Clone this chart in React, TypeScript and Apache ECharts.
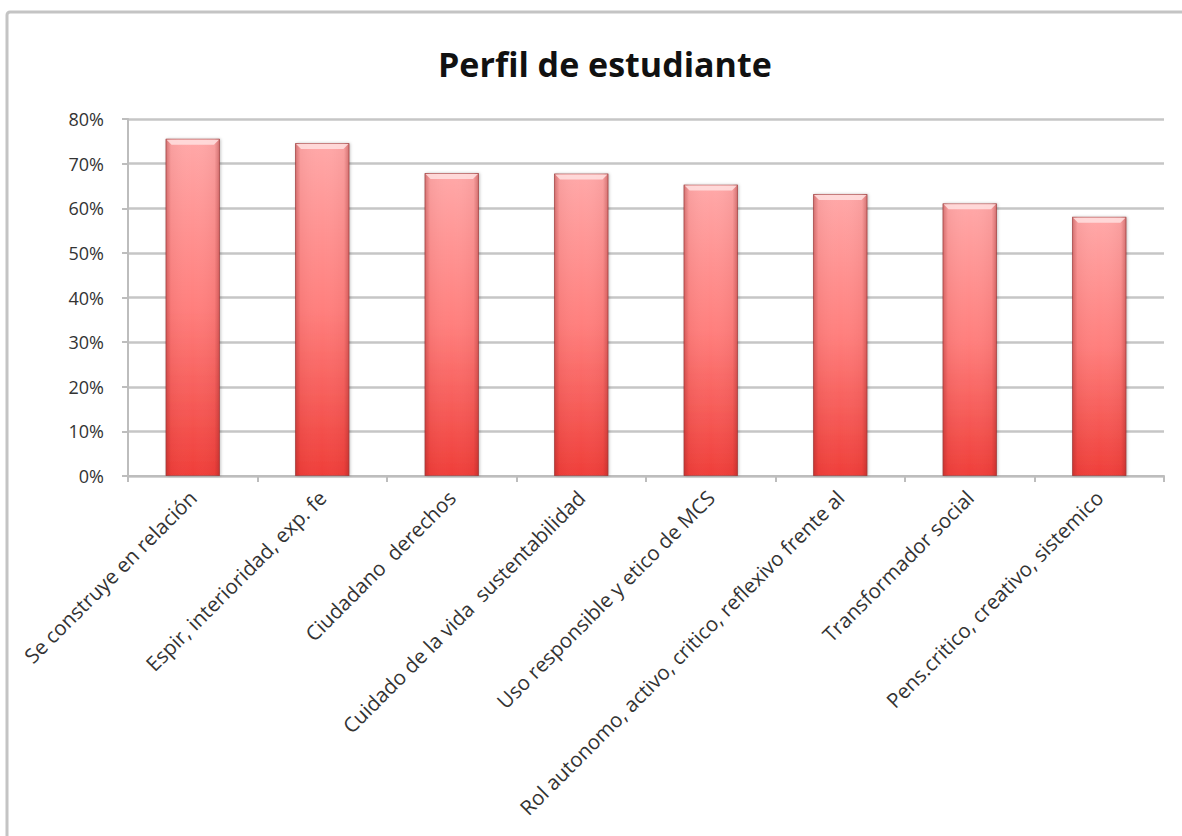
import React, { useEffect, useRef } from "react";
import * as echarts from "echarts";

const TITLE = "Perfil de estudiante";
const categories = [
  "Se construye en relación",
  "Espir, interioridad, exp. fe",
  "Ciudadano  derechos",
  "Cuidado de la vida  sustentabilidad",
  "Uso responsible y etico de MCS",
  "Rol autonomo, activo, critico, reflexivo frente al",
  "Transformador social",
  "Pens.critico, creativo, sistemico",
];
const values = [0.756, 0.746, 0.679, 0.678, 0.653, 0.632, 0.611, 0.581];
const yTicks = { min: 0, max: 0.8, interval: 0.1 };

const BAR_RATIO = 0.42;

export default function App() {
  const ref = useRef<HTMLDivElement>(null);
  useEffect(() => {
    if (!ref.current) return;
    const chart = echarts.init(ref.current, null, { renderer: "svg" });
    const font = "'Open Sans', 'Noto Sans', sans-serif";
    chart.setOption({
      animation: false,
      backgroundColor: "#ffffff",
      title: {
        text: TITLE,
        left: 433,
        top: 42,
        textStyle: { fontFamily: font, fontWeight: "bold", fontSize: 34, color: "#111" },
      },
      graphic: [
        {
          type: "rect",
          shape: { x: 7, y: 12, width: 1300, height: 1000, r: 3 },
          style: { fill: "none", stroke: "#c4c4c4", lineWidth: 3 },
          silent: true,
        },
      ],
      grid: { left: 128, right: 18, top: 119, bottom: 360, containLabel: false },
      xAxis: {
        type: "category",
        data: categories,
        boundaryGap: true,
        axisLine: { show: true, lineStyle: { color: "#bdbdbd", width: 2 } },
        axisTick: { show: true, length: 6, lineStyle: { color: "#bdbdbd", width: 2 } },
        axisLabel: {
          interval: 0,
          rotate: 45,
          margin: 18,
          fontFamily: font,
          fontSize: 20.5,
          color: "#333",
        },
      },
      yAxis: {
        type: "value",
        min: yTicks.min,
        max: yTicks.max,
        interval: yTicks.interval,
        axisLine: { show: true, lineStyle: { color: "#bdbdbd", width: 2 } },
        axisTick: { show: true, length: 6, lineStyle: { color: "#bdbdbd", width: 2 } },
        splitLine: { show: true, lineStyle: { color: "#c6c6c6", width: 2.5 } },
        axisLabel: {
          margin: 24,
          fontFamily: font,
          fontSize: 18,
          color: "#333",
          formatter: (v: number) => Math.round(v * 100) + "%",
        },
      },
      series: [
        {
          type: "bar",
          data: values,
          barWidth: BAR_RATIO * 100 + "%",
          itemStyle: {
            color: new echarts.graphic.LinearGradient(0, 0, 0, 1, [
              { offset: 0, color: "#ffa8a8" },
              { offset: 0.5, color: "#ff7f7d" },
              { offset: 1, color: "#ef3e39" },
            ]),
            borderColor: "rgba(150,50,50,0.5)",
            borderWidth: 1,
            shadowBlur: 3,
            shadowColor: "rgba(0,0,0,0.25)",
            shadowOffsetX: 1,
            shadowOffsetY: 0,
          },
          z: 2,
        },
        {
          type: "custom",
          data: values.map((v, i) => [i, v]),
          encode: { x: 0, y: 1 },
          z: 3,
          silent: true,
          renderItem: (params: any, api: any) => {
            const i = api.value(0);
            const v = api.value(1);
            const top = api.coord([i, v]);
            const base = api.coord([i, 0]);
            const band = api.size([1, 0])[0];
            const w = band * BAR_RATIO;
            const x = top[0] - w / 2;
            const y = top[1];
            const h = base[1] - top[1];
            const b = 6;
            return {
              type: "group",
              children: [
                {
                  type: "rect",
                  shape: { x, y, width: w, height: h },
                  style: {
                    fill: new echarts.graphic.LinearGradient(0, 0, 1, 0, [
                      { offset: 0, color: "rgba(140,30,30,0.4)" },
                      { offset: 0.1, color: "rgba(140,30,30,0.06)" },
                      { offset: 0.5, color: "rgba(255,255,255,0)" },
                      { offset: 0.9, color: "rgba(140,30,30,0.06)" },
                      { offset: 1, color: "rgba(140,30,30,0.4)" },
                    ]),
                  },
                },
                {
                  type: "polygon",
                  shape: {
                    points: [
                      [x + 1, y + 1],
                      [x + w - 1, y + 1],
                      [x + w - b, y + b],
                      [x + b, y + b],
                    ],
                  },
                  style: { fill: "rgba(255,225,225,0.85)" },
                },
              ],
            };
          },
        },
      ],
    });
    return () => chart.dispose();
  }, []);
  return (
    <div
      ref={ref}
      style={{ position: "fixed", left: 0, top: 0, width: 1182, height: 836, background: "#fff" }}
    />
  );
}
